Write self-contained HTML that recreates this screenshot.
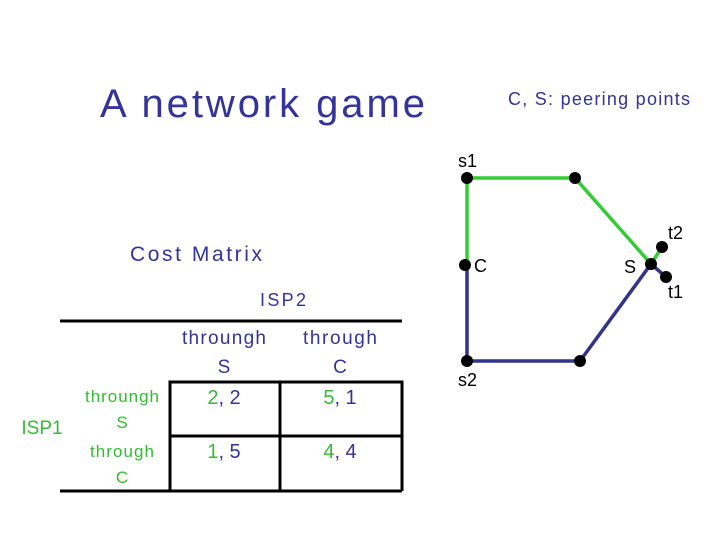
<html><head><style>body{margin:0;background:#fff}</style></head><body>
<svg width="720" height="540" xmlns="http://www.w3.org/2000/svg" style="font-family:'Liberation Sans',sans-serif">
<text x="100" y="117" font-size="40" fill="#333399" textLength="325" lengthAdjust="spacing">A network game</text>
<text x="508" y="105" font-size="18" fill="#333399" textLength="182" lengthAdjust="spacing">C, S: peering points</text>
<text x="130" y="261" font-size="21" fill="#333399" textLength="132" lengthAdjust="spacing">Cost Matrix</text>
<text x="260" y="306" font-size="18" fill="#333399" textLength="46" lengthAdjust="spacing">ISP2</text>
<g stroke="#000" stroke-width="3" fill="none">
<line x1="60" y1="321" x2="402" y2="321"/>
<line x1="60" y1="491" x2="402" y2="491"/>
<polyline points="170,491 170,382 402,382 402,491"/>
<line x1="170" y1="436" x2="402" y2="436"/>
<line x1="280" y1="382" x2="280" y2="491"/>
</g>
<g font-size="19" fill="#333399" text-anchor="middle">
<text x="224" y="344" textLength="84" lengthAdjust="spacing">throungh</text><text x="224" y="373">S</text>
<text x="340" y="344" textLength="74" lengthAdjust="spacing">through</text><text x="340" y="373">C</text>
</g>
<g font-size="17" fill="#33bb33" text-anchor="middle">
<text x="122" y="402" textLength="74" lengthAdjust="spacing">throungh</text><text x="122" y="428">S</text>
<text x="122" y="457" textLength="64" lengthAdjust="spacing">through</text><text x="122" y="483">C</text>
<text x="42" y="434" font-size="19">ISP1</text>
</g>
<g font-size="20" text-anchor="middle">
<text x="224" y="404"><tspan fill="#33bb33">2</tspan><tspan fill="#333399">, 2</tspan></text>
<text x="340" y="404"><tspan fill="#33bb33">5</tspan><tspan fill="#333399">, 1</tspan></text>
<text x="224" y="458"><tspan fill="#33bb33">1</tspan><tspan fill="#333399">, 5</tspan></text>
<text x="340" y="458"><tspan fill="#33bb33">4</tspan><tspan fill="#333399">, 4</tspan></text>
</g>
<g stroke-width="3.5" fill="none">
<polyline points="467,265 467,178 575,178 651,264 662,247" stroke="#33cc33"/>
<polyline points="467,265 467,361 580,361 651,264 666,277" stroke="#333388"/>
</g>
<g fill="#000">
<circle cx="467" cy="178" r="6"/><circle cx="575" cy="178" r="6"/>
<circle cx="651" cy="264" r="6"/><circle cx="662" cy="247" r="6"/>
<circle cx="666" cy="277" r="6"/><circle cx="465" cy="265" r="6"/>
<circle cx="467" cy="361" r="6"/><circle cx="580" cy="361" r="6"/>
</g>
<g font-size="18" fill="#000">
<text x="458" y="167">s1</text><text x="474" y="272">C</text>
<text x="624" y="273">S</text><text x="668" y="239">t2</text>
<text x="668" y="298">t1</text><text x="458" y="386">s2</text>
</g>
</svg>
</body></html>
